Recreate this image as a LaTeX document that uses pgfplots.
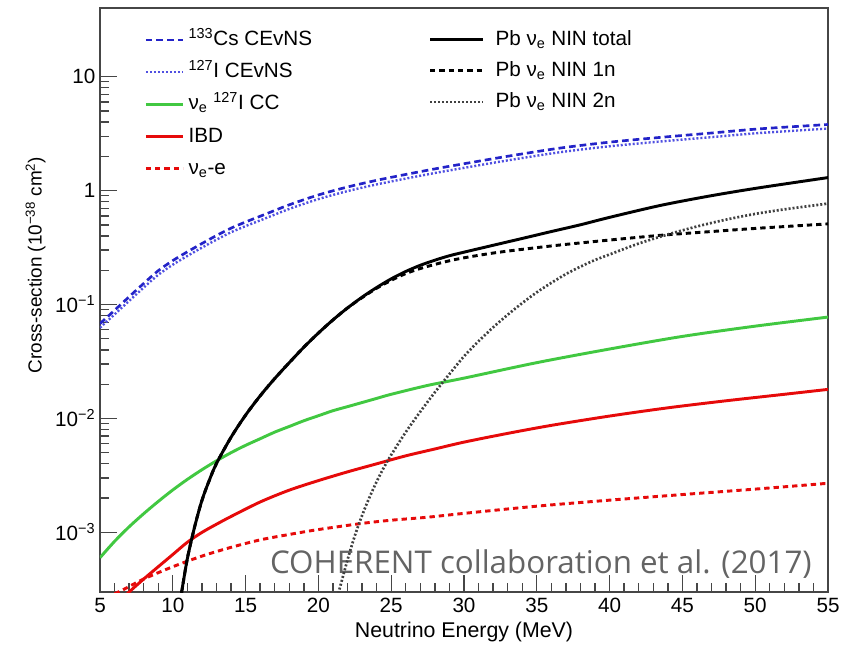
\documentclass[border=0pt]{standalone}
\usepackage{fontspec}
\setmainfont{Liberation Sans}
\newfontfamily\creditfont{Open Sans}
\usepackage{pgfplots}
\pgfplotsset{compat=1.18}
\definecolor{csblue}{RGB}{35,35,200}
\definecolor{iblue}{RGB}{80,80,225}
\definecolor{ccgreen}{RGB}{65,200,65}
\definecolor{ibdred}{RGB}{230,10,10}
\definecolor{axgray}{RGB}{70,70,70}
\definecolor{credit}{RGB}{100,100,100}
\begin{document}
\begin{tikzpicture}
\begin{axis}[
  scale only axis, width=546pt, height=438pt,
  xmin=5, xmax=55, ymode=log, ymin=3e-4, ymax=40,
  font=\fontsize{15.5}{18}\selectfont,
  name=main,
  axis line style={axgray, line width=1.1pt},
  tick style={axgray, line width=1.0pt},
  major tick length=13pt, minor tick length=7pt,
  tick pos=left, tick align=inside,
  xtick={5,10,...,55}, minor x tick num=4,
  ytick={1e-3,1e-2,1e-1,1,10},
  yticklabels={10\textsuperscript{−3},10\textsuperscript{−2},10\textsuperscript{−1},1,10},
  /pgf/number format/assume math mode=true,
  xlabel={Neutrino Energy (MeV)},
  ylabel={Cross-section (10\textsuperscript{−38} cm\textsuperscript{2})},
  ylabel style={at={(axis description cs:0,0.56)}, anchor=base, yshift=43.7pt,
    font=\fontsize{14.2}{17}\selectfont},
  xlabel style={at={(axis description cs:0.5,0)}, anchor=base, yshift=-33.75pt,
    font=\fontsize{16}{19}\selectfont},
  xticklabel style={yshift=-1pt},
  legend cell align=left,
  legend style={draw=none, fill=none, at={(0.055,0.971)}, anchor=north west,
    row sep=6.2pt, nodes={inner xsep=3pt, inner ysep=1pt, text height=12pt, text depth=4pt}},
  legend image code/.code={\draw[#1] (0pt,0pt) -- (28pt,0pt);},
]
\coordinate (sw) at (rel axis cs:0,0);
\coordinate (ne) at (rel axis cs:1,1);
% 133Cs CEvNS
\addplot[csblue, line width=2pt, dash pattern=on 5pt off 3pt, smooth] coordinates {
(5,0.068) (6,0.089) (7,0.117) (8,0.153) (9,0.198) (10,0.243) (11,0.29) (12,0.343)
(13,0.403) (14,0.468) (15,0.53) (16,0.595) (18,0.75) (20,0.915) (22,1.075) (24,1.23)
(26,1.385) (28,1.55) (30,1.72) (33,2.0) (36.6,2.36) (40,2.66) (43.5,2.93) (47,3.2)
(50.3,3.48) (55,3.8)};
\addlegendentry{\textsuperscript{133}Cs CEvNS}
% 127I CEvNS
\addplot[iblue, line width=1.8pt, dash pattern=on 1.5pt off 1.5pt, smooth] coordinates {
(5,0.0626) (6,0.0819) (7,0.1076) (8,0.1408) (9,0.1822) (10,0.2236) (11,0.2668)
(12,0.3156) (13,0.3708) (14,0.4306) (15,0.4876) (16,0.5474) (18,0.69) (20,0.842)
(22,0.989) (24,1.132) (26,1.274) (28,1.426) (30,1.582) (33,1.84) (36.6,2.171)
(40,2.447) (43.5,2.696) (47,2.944) (50.3,3.2) (55,3.5)};
\addlegendentry{\textsuperscript{127}I CEvNS}
% nu_e 127I CC
\addplot[ccgreen, line width=2.2pt, smooth] coordinates {
(5,6.0e-4) (6,8.35e-4) (7,1.12e-3) (8,1.46e-3) (9,1.87e-3) (10,2.36e-3) (11,2.92e-3)
(12,3.55e-3) (13,4.25e-3) (14,5.01e-3) (15,5.81e-3) (16,6.64e-3) (17,7.59e-3)
(18,8.51e-3) (19,9.55e-3) (20,0.01057) (21,0.0117) (22,0.0127) (23,0.0138)
(24,0.0150) (25,0.0163) (27.5,0.0195) (30,0.0226) (35,0.0309) (40,0.0407)
(45,0.0525) (50,0.0646) (55,0.0776)};
\addlegendentry{ν\textsubscript{e} \textsuperscript{127}I CC}
% IBD
\addplot[ibdred, line width=2.2pt, smooth] coordinates {
(6.8,2.8e-4) (7,3.0e-4) (8,3.9e-4) (9,5.0e-4) (10,6.4e-4) (11,8.2e-4) (12,1.0e-3)
(13,1.18e-3) (14,1.38e-3) (16,1.85e-3) (18,2.35e-3) (20,2.85e-3) (22,3.4e-3)
(24,4.0e-3) (26,4.7e-3) (28,5.4e-3) (30,6.2e-3) (33,7.4e-3) (36,8.7e-3) (40,0.0105)
(44,0.0124) (48,0.0143) (52,0.0163) (55,0.018)};
\addlegendentry{IBD}
% nu_e - e
\addplot[ibdred, line width=2.2pt, dash pattern=on 4pt off 3pt, smooth] coordinates {
(6.0,2.9e-4) (6.5,3.1e-4) (8,3.9e-4) (10,5.0e-4) (12,6.2e-4) (14,7.4e-4) (16,8.6e-4)
(18,9.6e-4) (20,1.06e-3) (23,1.2e-3) (25,1.28e-3) (27.5,1.36e-3) (30,1.47e-3)
(35,1.7e-3) (40,1.92e-3) (45,2.15e-3) (50,2.4e-3) (55,2.7e-3)};
\addlegendentry{ν\textsubscript{e}-e}
\node[font=\creditfont\fontsize{23.5}{26}\selectfont, text=credit, anchor=base east, inner sep=0pt]
  at (axis cs:53.9,4.37e-4) {COHERENT collaboration et al. (2017)};
\end{axis}
\begin{axis}[
  scale only axis, width=546pt, height=438pt,
  xmin=5, xmax=55, ymode=log, ymin=3e-4, ymax=40,
  font=\fontsize{15.5}{18}\selectfont,
  hide axis,
  legend cell align=left,
  legend style={draw=none, fill=none, at={(0.4455,0.971)}, anchor=north west,
    row sep=5.25pt, nodes={inner xsep=3pt, inner ysep=1pt, text height=12pt, text depth=4pt}},
  legend image code/.code={\draw[#1] (0pt,0pt) -- (40pt,0pt); \path (45pt,0pt);},
]
% Pb total
\addplot[black, line width=2.2pt, smooth] coordinates {
(10.6,2.95e-4) (11,5.9e-4) (11.5,1.12e-3) (12,1.91e-3) (12.5,2.85e-3) (13,4.03e-3)
(14,6.84e-3) (15,0.0107) (16,0.0158) (17,0.0224) (18,0.0309) (19,0.0422) (20,0.0562)
(21,0.0733) (22,0.0933) (23,0.116) (24,0.141) (25,0.168) (26,0.195) (27,0.221)
(28,0.245) (29,0.268) (30,0.288) (32,0.331) (34,0.380) (36,0.437) (38,0.501)
(40,0.582) (43.5,0.741) (47,0.902) (50.3,1.059) (55,1.30)};
\addlegendentry{Pb ν\textsubscript{e} NIN total}
% Pb 1n
\addplot[black, line width=2.2pt, dash pattern=on 4pt off 3pt, smooth] coordinates {
(10.6,2.95e-4) (11,5.9e-4) (11.5,1.12e-3) (12,1.91e-3) (12.5,2.85e-3) (13,4.03e-3)
(14,6.84e-3) (15,0.0107) (16,0.0158) (17,0.0224) (18,0.0309) (19,0.0422) (20,0.0562)
(21,0.0733) (22,0.0933) (23,0.115) (24,0.139) (25,0.163) (26,0.187) (27,0.207)
(28,0.225) (29,0.242) (30,0.257) (32,0.283) (34,0.305) (36.6,0.333) (40,0.368)
(43.5,0.405) (47,0.437) (50.3,0.468) (55,0.51)};
\addlegendentry{Pb ν\textsubscript{e} NIN 1n}
% Pb 2n
\addplot[black!75, line width=2pt, dash pattern=on 1.5pt off 1.5pt, smooth] coordinates {
(21.3,2.7e-4) (22,5.75e-4) (22.5,9.33e-4) (23,1.41e-3) (23.5,2.02e-3) (24,2.79e-3)
(24.5,3.72e-3) (25,4.79e-3) (26,7.59e-3) (27,0.01148) (28,0.01698) (29,0.02455)
(30,0.0351) (31,0.0476) (32,0.0630) (33,0.0813) (34,0.103) (35,0.128) (36,0.155)
(37,0.185) (38,0.215) (39,0.246) (40,0.275) (42,0.343) (44,0.412) (46,0.484)
(48,0.556) (50,0.624) (52,0.684) (55,0.769)};
\addlegendentry{Pb ν\textsubscript{e} NIN 2n}
\end{axis}
\pgfresetboundingbox
\path[use as bounding box] ([shift={(-75pt,-39pt)}]sw) rectangle ([shift={(10.5pt,6pt)}]ne);
\end{tikzpicture}
\end{document}
